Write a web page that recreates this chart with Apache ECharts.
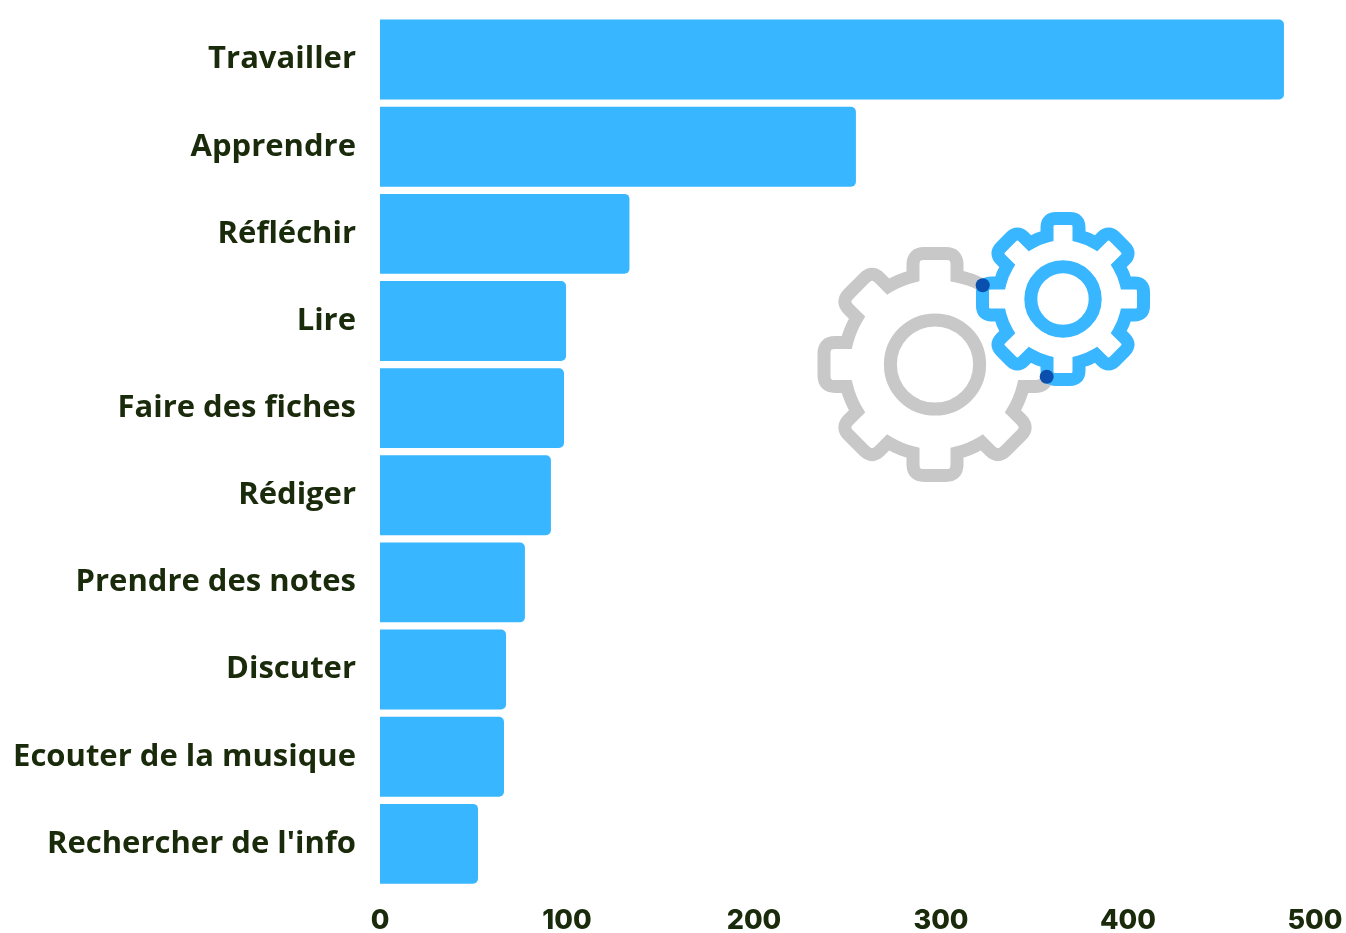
<!DOCTYPE html>
<html><head><meta charset="utf-8">
<style>html,body{margin:0;padding:0;background:#fff}#c{width:1346px;height:933px}</style>
<script src="https://cdn.jsdelivr.net/npm/echarts@6/dist/echarts.min.js"></script></head>
<body><div id="c"></div>
<script>
const categories = ["Travailler","Apprendre","Réfléchir","Lire","Faire des fiches","Rédiger","Prendre des notes","Discuter","Ecouter de la musique","Rechercher de l'info"];
const values = [483.4,254.5,133.4,99.5,98.4,91.4,77.5,67.4,66.3,52.4];
const tickLabels = [0,100,200,300,400,500];

function rot(p,deg,c){const a=deg*Math.PI/180,s=Math.sin(a),k=Math.cos(a);
  return [c[0]+p[0]*k-p[1]*s, c[1]+p[0]*s+p[1]*k];}
const f=p=>p[0].toFixed(2)+' '+p[1].toFixed(2);
function tooth(g,deg,first){
  const {c,R,tip,w,r}=g, b=Math.sqrt(R*R-w*w);
  const P=(x,y)=>f(rot([x,y],deg,c));
  return (first?'M ':`A ${R} ${R} 0 0 1 `)+P(-w,-b)+' L '+P(-w,-tip+r)+' Q '+P(-w,-tip)+' '+P(-w+r,-tip)
    +' L '+P(w-r,-tip)+' Q '+P(w,-tip)+' '+P(w,-tip+r)+' L '+P(w,-b)+' ';
}
function closedGear(g){
  let d='';
  for(let i=0;i<8;i++) d+=tooth(g,i*45,i===0);
  const b=Math.sqrt(g.R*g.R-g.w*g.w);
  return d+`A ${g.R} ${g.R} 0 0 1 `+f(rot([-g.w,-b],0,g.c))+' Z';
}
function openGear(g,startPt,endPt){
  const {c,R,tip,w,r}=g, b=Math.sqrt(R*R-w*w);
  const P=(x,y)=>f(rot([x,y],90,c));
  let d='M '+f(startPt)+' Q '+P(w,-tip)+' '+P(w,-tip+r)+' L '+P(w,-b)+' ';
  for(let i=3;i<=8;i++) d+=tooth(g,i*45,false);
  return d+`A ${R} ${R} 0 0 1 `+f(endPt);
}
const gray={c:[935,364.5],R:91,tip:111,w:22,r:11};
const blue={c:[1063,299],R:65,tip:80.5,w:16,r:9};
const capA=[982.7,285.3], capB=[1046.7,376.7];

echarts.graphic.registerShape('grayGear',echarts.graphic.extendPath(openGear(gray,capB,capA),{}));
echarts.graphic.registerShape('blueGear',echarts.graphic.extendPath(closedGear(blue),{}));

const chart=echarts.init(document.getElementById('c'),null,{renderer:'canvas'});
const gearStyle=(col)=>({stroke:col,lineWidth:13,fill:null,lineJoin:'miter',miterLimit:4,lineCap:'round'});
chart.setOption({
  animation:false,
  grid:{left:380,right:31,top:16,bottom:45.6,containLabel:false,outerBoundsMode:'none'},
  xAxis:{type:'value',min:0,max:500,interval:100,splitLine:{show:false},axisLine:{show:false},axisTick:{show:false},
    axisLabel:{color:'#1a2b0b',fontFamily:'Inter',fontWeight:800,fontSize:27,margin:19.5,hideOverlap:false,
      formatter:v=>String(v)}},
  yAxis:{type:'category',inverse:true,data:categories,axisLine:{show:false},axisTick:{show:false},
    axisLabel:{color:'#1a2b0b',fontFamily:'Open Sans',fontWeight:700,fontSize:31,margin:24,padding:[6,0,0,0]}},
  series:[{type:'bar',data:values,barCategoryGap:'8.3%',itemStyle:{color:'#38b6ff',borderRadius:[0,5,5,0]}}],
  graphic:[
    {type:'grayGear',silent:true,z:10,style:gearStyle('#c8c8c8')},
    {type:'circle',silent:true,z:10,shape:{cx:935,cy:364.5,r:44.6},style:{stroke:'#c8c8c8',lineWidth:13,fill:null}},
    {type:'blueGear',silent:true,z:11,style:gearStyle('#38b6ff')},
    {type:'circle',silent:true,z:11,shape:{cx:1063,cy:299,r:32.2},style:{stroke:'#38b6ff',lineWidth:13,fill:null}},
    {type:'circle',silent:true,z:12,shape:{cx:capA[0],cy:capA[1],r:7},style:{fill:'#0a4fad'}},
    {type:'circle',silent:true,z:12,shape:{cx:capB[0],cy:capB[1],r:7},style:{fill:'#0a4fad'}}
  ]
});
</script></body></html>
